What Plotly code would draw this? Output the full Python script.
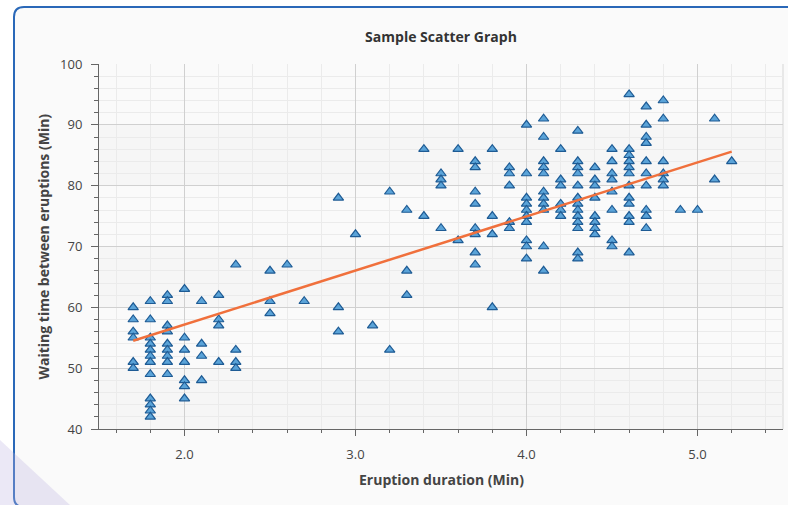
import numpy as np
import plotly.graph_objects as go

# ---- data ----
eruption = (
    [1.7] * 6 + [1.8] * 12 + [1.9] * 9 + [2.0] * 7 + [2.1] * 4 + [2.2] * 4 + [2.3] * 4 +
    [2.5] * 3 + [2.6] + [2.7] + [2.9] * 3 + [3.0] + [3.1] + [3.2] * 2 + [3.3] * 3 +
    [3.4] * 2 + [3.5] * 4 + [3.6] * 2 + [3.7] * 8 + [3.8] * 4 + [3.9] * 5 + [4.0] * 10 +
    [4.1] * 11 + [4.2] * 6 + [4.3] * 13 + [4.4] * 8 + [4.5] * 8 + [4.6] * 12 + [4.7] * 10 +
    [4.8] * 6 + [4.9] + [5.0] + [5.1] * 2 + [5.2]
)
waiting = [
    60, 58, 56, 55, 51, 50,
    61, 58, 55, 54, 53, 52, 51, 49, 45, 44, 43, 42,
    62, 61, 57, 56, 54, 53, 52, 51, 49,
    63, 55, 53, 51, 48, 47, 45,
    61, 54, 52, 48,
    62, 58, 57, 51,
    67, 53, 51, 50,
    66, 61, 59,
    67,
    61,
    78, 60, 56,
    72,
    57,
    79, 53,
    76, 66, 62,
    86, 75,
    82, 81, 80, 73,
    86, 71,
    84, 83, 79, 77, 73, 72, 69, 67,
    86, 75, 72, 60,
    83, 82, 80, 74, 73,
    90, 82, 78, 77, 76, 75, 74, 71, 70, 68,
    91, 88, 84, 83, 82, 79, 78, 77, 76, 70, 66,
    86, 81, 80, 77, 76, 75,
    89, 84, 83, 82, 80, 78, 77, 76, 75, 74, 73, 69, 68,
    83, 81, 80, 78, 75, 74, 73, 72,
    86, 84, 82, 81, 79, 76, 71, 70,
    95, 86, 85, 84, 83, 82, 80, 78, 77, 75, 74, 69,
    93, 90, 88, 87, 84, 82, 80, 76, 75, 73,
    94, 91, 84, 82, 81, 80,
    76,
    76,
    91, 81,
    84,
]
# trend line end values
trend_x = [1.7, 5.2]
trend_y = [54.5, 85.6]

title_text = "Sample Scatter Graph"
x_title = "Eruption duration (Min)"
y_title = "Waiting time between eruptions (Min)"

# ---- figure ----
W, H = 788, 505
ML, MR, MT, MB = 99, 5, 64, 76
PW, PH = W - ML - MR, H - MT - MB


def px(x):
    return (x - ML) / PW


def py(y):
    return (H - MB - y) / PH


fig = go.Figure()

fig.add_trace(go.Scatter(
    x=eruption, y=waiting, mode="markers",
    marker=dict(symbol="triangle-up", size=9, color="#5aa3d8",
                line=dict(color="#1e5b94", width=1.2)),
    showlegend=False, hoverinfo="x+y",
))
fig.add_trace(go.Scatter(
    x=trend_x, y=trend_y, mode="lines",
    line=dict(color="#f0703c", width=2.5),
    showlegend=False, hoverinfo="skip",
))

shapes = []
# outer rounded frame
frame = (f"M {px(800)},{py(7)} L {px(24)},{py(7)} Q {px(14)},{py(7)} {px(14)},{py(17)} "
         f"L {px(14)},{py(497)} Q {px(14)},{py(507)} {px(24)},{py(507)} L {px(800)},{py(507)} Z")
shapes.append(dict(type="path", path=frame, xref="paper", yref="paper",
                   fillcolor="#fafafa", line=dict(color="#2a68b8", width=2), layer="below"))
# faint lavender wedge bottom-left
wedge = f"M {px(0)},{py(440)} L {px(70)},{py(505)} L {px(0)},{py(505)} Z"
shapes.append(dict(type="path", path=wedge, xref="paper", yref="paper",
                   fillcolor="rgba(190,180,225,0.3)", line=dict(width=0), layer="below"))
# alternating bands in plot area
for y0 in (40, 60, 80):
    shapes.append(dict(type="rect", xref="paper", yref="y", x0=0, x1=1, y0=y0, y1=y0 + 10,
                       fillcolor="#f6f6f6", line=dict(width=0), layer="below"))
# right edge line
shapes.append(dict(type="line", xref="paper", yref="paper", x0=1, x1=1, y0=0, y1=1,
                   line=dict(color="#e2e2e2", width=1.5), layer="below"))

font_family = "Open Sans, DejaVu Sans, sans-serif"

fig.update_layout(
    width=W, height=H,
    margin=dict(l=ML, r=MR, t=MT, b=MB),
    paper_bgcolor="white", plot_bgcolor="white",
    font=dict(family=font_family, size=12, color="#444"),
    title=dict(text=f"<b>{title_text}</b>", x=px(441), xref="paper", xanchor="center",
               y=1 - 37 / H, yref="container", yanchor="middle",
               font=dict(size=14, color="#333")),
    shapes=shapes,
    annotations=[
        dict(text=f"<b>{x_title}</b>", x=0.5, y=py(479), xref="paper", yref="paper",
             showarrow=False, xanchor="center", yanchor="middle",
             font=dict(size=14, color="#444")),
        dict(text=f"<b>{y_title}</b>", x=px(43), y=0.5, xref="paper", yref="paper",
             showarrow=False, xanchor="center", yanchor="middle", textangle=-90,
             font=dict(size=14, color="#444")),
    ],
    xaxis=dict(
        range=[1.5, 5.5], tick0=0, dtick=1, tickformat=".1f",
        showgrid=True, gridcolor="#d0d0d0", gridwidth=1,
        zeroline=False, showline=True, linecolor="#666", linewidth=1,
        ticks="outside", ticklen=6, tickcolor="#666", ticklabelstandoff=7,
        tickfont=dict(size=13, color="#444"),
        minor=dict(dtick=0.2, tick0=0, showgrid=True, gridcolor="#ebebeb", gridwidth=1,
                   ticks="outside", ticklen=3, tickcolor="#666"),
        fixedrange=True,
    ),
    yaxis=dict(
        range=[40, 100], tick0=0, dtick=10,
        showgrid=True, gridcolor="#d0d0d0", gridwidth=1,
        zeroline=False, showline=True, linecolor="#666", linewidth=1,
        ticks="outside", ticklen=7, tickcolor="#666", ticklabelstandoff=6,
        tickfont=dict(size=13, color="#444"),
        minor=dict(dtick=2, tick0=0, showgrid=True, gridcolor="#ebebeb", gridwidth=1,
                   ticks="outside", ticklen=4, tickcolor="#666"),
        fixedrange=True,
    ),
)

fig.write_html("out.html", config={"displayModeBar": False},
               post_script="document.body.style.margin='0px';")
